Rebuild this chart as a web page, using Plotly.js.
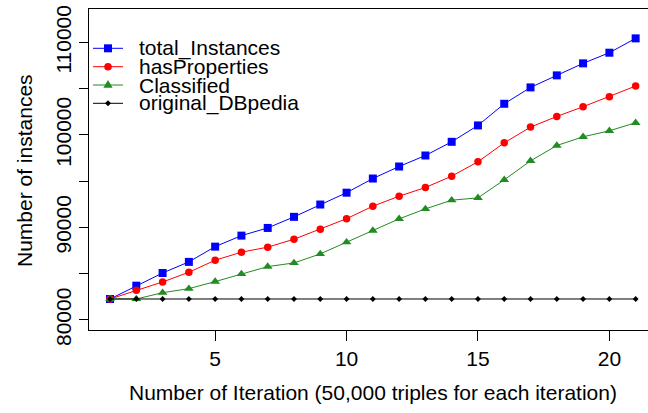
<!DOCTYPE html>
<html><head><meta charset="utf-8">
<script src="https://cdn.plot.ly/plotly-3.0.1.min.js"></script>
<style>html,body{margin:0;padding:0;background:#fff;overflow:hidden}</style>
</head><body><div id="chart" style="width:648px;height:413px"></div>
<script>
const iterations = [1,2,3,4,5,6,7,8,9,10,11,12,13,14,15,16,17,18,19,20,21];
const totalInstances = [82270,83710,85080,86280,87930,89120,89950,91150,92480,93760,95290,96590,97780,99260,101030,103370,105140,106440,107740,108890,110440];
const hasProperties = [82270,83210,84110,85160,86460,87330,87870,88730,89810,90950,92300,93380,94320,95550,97100,99150,100850,102000,103050,104130,105290];
const classified = [82270,82270,82950,83390,84150,84980,85770,86170,87140,88410,89660,90930,92010,92950,93200,95150,97200,98860,99800,100450,101320];
const originalDBpedia = [82270,82270,82270,82270,82270,82270,82270,82270,82270,82270,82270,82270,82270,82270,82270,82270,82270,82270,82270,82270,82270];
const seriesNames = ['total_Instances','hasProperties','Classified','original_DBpedia'];
const xTickVals = [5,10,15,20];
const yTickVals = [80000,85000,90000,95000,100000,105000,110000];
const yTickText = ['80000','','90000','','100000','','110000'];
const xTitle = 'Number of Iteration (50,000 triples for each iteration)';
const yTitle = 'Number of instances';

const seriesValues = [totalInstances, hasProperties, classified, originalDBpedia];
const colors = ['#0000FF','#FF0000','#228B22','#000000'];
const symbols = ['square','circle','triangle-up','diamond'];
const sizes = [8,7.5,8.5,4.5];

const FONT = 'Liberation Sans, Arial, Helvetica, sans-serif';

const traces = seriesValues.map((vals, i) => ({
  x: iterations, y: vals, name: seriesNames[i],
  type: 'scatter', mode: 'lines+markers',
  line: {color: colors[i], width: 1},
  marker: {color: colors[i], symbol: symbols[i], size: sizes[i], line: {width: 0}},
  showlegend: false, hoverinfo: 'skip'
}));

// Custom legend (R-style compact spacing)
const W = 559, H = 321;
const legRowY = [48.3, 66.7, 85, 103.3];
const px2x = p => (p - 89) / W;
const py2y = p => (330 - p) / H;
const markerPaths = [
  'M -4,-4 L 4,-4 L 4,4 L -4,4 Z',
  null,
  'M -4.6,-2.7 L 4.6,-2.7 L 0,5 Z',
  'M -3,0 L 0,3 L 3,0 L 0,-3 Z'
];
const shapes = [];
const annotations = [];
seriesNames.forEach((nm, i) => {
  const yy = py2y(legRowY[i]);
  shapes.push({type:'line', xref:'paper', yref:'paper', x0:px2x(93), x1:px2x(123), y0:yy, y1:yy,
    line:{color:colors[i], width:1}});
  if (markerPaths[i]) {
    shapes.push({type:'path', xref:'paper', yref:'paper', xsizemode:'pixel', ysizemode:'pixel',
      xanchor:px2x(108), yanchor:yy, path:markerPaths[i], fillcolor:colors[i], line:{width:0}});
  } else {
    shapes.push({type:'circle', xref:'paper', yref:'paper', xsizemode:'pixel', ysizemode:'pixel',
      xanchor:px2x(108), yanchor:yy, x0:-3.8, x1:3.8, y0:-3.8, y1:3.8, fillcolor:colors[i], line:{width:0}});
  }
  annotations.push({xref:'paper', yref:'paper', x:px2x(137), y:yy, xanchor:'left', yanchor:'middle',
    text:nm, showarrow:false, font:{family:FONT, size:21, color:'#000'}});
});
annotations.push({xref:'paper', yref:'paper', x:px2x(372.8), y:py2y(393), xanchor:'center', yanchor:'middle',
  text:xTitle, showarrow:false, font:{family:FONT, size:21, color:'#000'}});
annotations.push({xref:'paper', yref:'paper', x:px2x(24), y:py2y(171), xanchor:'center', yanchor:'middle',
  text:yTitle, textangle:-90, showarrow:false, font:{family:FONT, size:21, color:'#000'}});

const layout = {
  width: 648, height: 413,
  margin: {l:89, r:0, t:9, b:83, pad:0},
  paper_bgcolor: '#fff', plot_bgcolor: '#fff',
  font: {family: FONT, size: 21, color: '#000'},
  showlegend: false,
  xaxis: {range:[0.2, 21.47], tickmode:'array', tickvals:xTickVals, ticks:'outside', ticklen:10,
    tickwidth:1, tickcolor:'#000', showline:true, linecolor:'#000', linewidth:1, mirror:true,
    showgrid:false, zeroline:false, tickfont:{family:FONT, size:21, color:'#000'}},
  yaxis: {range:[78918, 113615], tickmode:'array', tickvals:yTickVals, ticktext:yTickText, tickangle:-90,
    ticks:'outside', ticklen:9, tickwidth:1, tickcolor:'#000', showline:true, linecolor:'#000', linewidth:1,
    mirror:false, showgrid:false, zeroline:false, tickfont:{family:FONT, size:21, color:'#000'}},
  shapes: shapes, annotations: annotations
};
Plotly.newPlot('chart', traces, layout, {displayModeBar:false, staticPlot:true});
</script></body></html>
